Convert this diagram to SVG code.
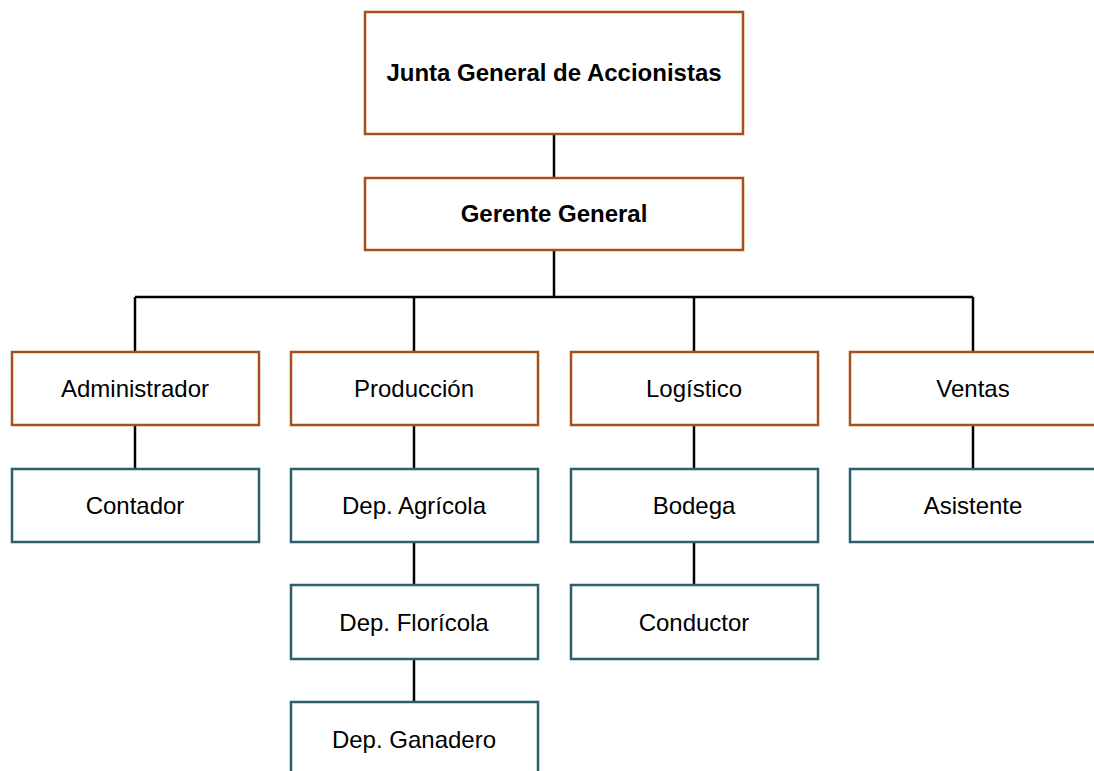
<svg xmlns="http://www.w3.org/2000/svg" width="1094" height="771" viewBox="0 0 1094 771">
<style>
.o{fill:#fff;stroke:#A5511B;stroke-width:2.5}
.t{fill:#fff;stroke:#2D5F6C;stroke-width:2.5}
text{font-family:"Liberation Sans",Arial,sans-serif;font-size:24px;fill:#000;text-anchor:middle}
.b{font-weight:bold}
#connectors line{stroke:#000;stroke-width:2.5}
</style>
<rect width="1094" height="771" fill="#fff"/>
<g id="connectors">
<line x1="554" y1="134" x2="554" y2="178"/>
<line x1="554" y1="250" x2="554" y2="297"/>
<line x1="135" y1="297" x2="973" y2="297"/>
<line x1="135" y1="297" x2="135" y2="352"/>
<line x1="414" y1="297" x2="414" y2="352"/>
<line x1="694" y1="297" x2="694" y2="352"/>
<line x1="973" y1="297" x2="973" y2="352"/>
<line x1="135" y1="425" x2="135" y2="469"/>
<line x1="414" y1="425" x2="414" y2="469"/>
<line x1="694" y1="425" x2="694" y2="469"/>
<line x1="973" y1="425" x2="973" y2="469"/>
<line x1="414" y1="542" x2="414" y2="585"/>
<line x1="694" y1="542" x2="694" y2="585"/>
<line x1="414" y1="659" x2="414" y2="702"/>
</g>
<g id="junta"><rect class="o" x="365" y="12" width="378" height="122"/><text class="b" x="554" y="81">Junta General de Accionistas</text></g>
<g id="gerente"><rect class="o" x="365" y="178" width="378" height="72"/><text class="b" x="554" y="222">Gerente General</text></g>
<g id="administrador"><rect class="o" x="12" y="352" width="247" height="73"/><text x="135" y="397">Administrador</text></g>
<g id="produccion"><rect class="o" x="291" y="352" width="247" height="73"/><text x="414" y="397">Producción</text></g>
<g id="logistico"><rect class="o" x="571" y="352" width="247" height="73"/><text x="694" y="397">Logístico</text></g>
<g id="ventas"><rect class="o" x="850" y="352" width="247" height="73"/><text x="973" y="397">Ventas</text></g>
<g id="contador"><rect class="t" x="12" y="469" width="247" height="73"/><text x="135" y="514">Contador</text></g>
<g id="agricola"><rect class="t" x="291" y="469" width="247" height="73"/><text x="414" y="514">Dep. Agrícola</text></g>
<g id="bodega"><rect class="t" x="571" y="469" width="247" height="73"/><text x="694" y="514">Bodega</text></g>
<g id="asistente"><rect class="t" x="850" y="469" width="247" height="73"/><text x="973" y="514">Asistente</text></g>
<g id="floricola"><rect class="t" x="291" y="585" width="247" height="74"/><text x="414" y="631">Dep. Florícola</text></g>
<g id="conductor"><rect class="t" x="571" y="585" width="247" height="74"/><text x="694" y="631">Conductor</text></g>
<g id="ganadero"><rect class="t" x="291" y="702" width="247" height="74"/><text x="414" y="748">Dep. Ganadero</text></g>
</svg>
